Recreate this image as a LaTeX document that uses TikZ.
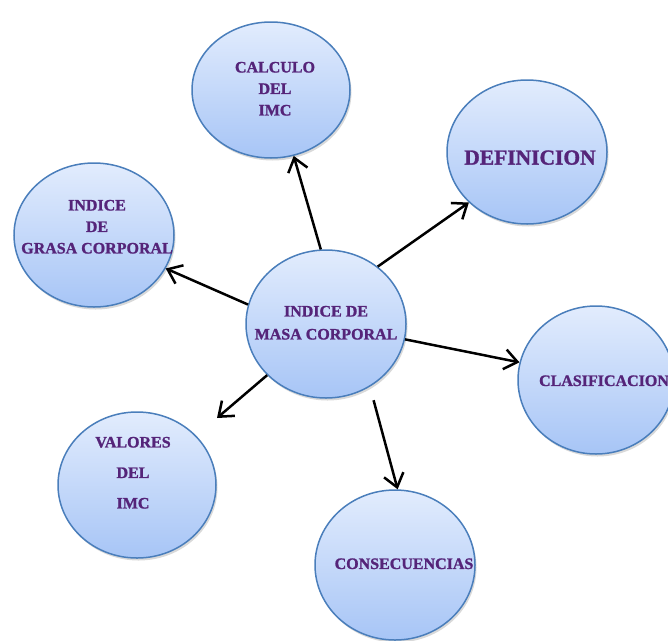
\documentclass[tikz,border=0pt]{standalone}
\usepackage{fontspec}
\setmainfont{Liberation Serif}[BoldFeatures={FakeBold=1.3}]
\usetikzlibrary{shapes.geometric, arrows.meta, shadows}

\definecolor{bordeazul}{HTML}{4A7EBB}
\definecolor{cieloarriba}{HTML}{E2ECFD}
\definecolor{cieloabajo}{HTML}{A7C5F6}
\definecolor{morado}{HTML}{552479}

% text that does not widen the ellipse: {xshift}{raise}{lines}
\newcommand{\rotulo}[3]{\raisebox{#2}[0pt][0pt]{\makebox[0pt]{\kern#1\kern#1\begin{tabular}{@{}c@{}}#3\end{tabular}}}}

\tikzset{
    tema/.style={ellipse, draw=bordeazul, line width=1.5pt,
        top color=cieloarriba, bottom color=cieloabajo,
        minimum width=160pt, minimum height=146pt, inner sep=0pt,
        text=morado,
        font=\fontsize{16}{21.5}\selectfont\bfseries,
        drop shadow={shadow xshift=1.5pt, shadow yshift=-2.5pt, opacity=0.25, fill=black!60}},
    flecha/.style={-{Straight Barb[length=13pt, width=20pt]}, line width=2.5pt}
}

\begin{document}
\begin{tikzpicture}[x=1pt, y=-1pt]
    \useasboundingbox (0,0) rectangle (668,640);

    \node[tema, minimum height=148pt] (imc) at (326,324) {\rotulo{0pt}{-4pt}{INDICE DE\\[1.5pt]MASA CORPORAL}};
    \node[tema, minimum width=158pt, minimum height=136pt] (calc) at (271,90) {\rotulo{4pt}{-4pt}{CALCULO\\DEL\\IMC}};
    \node[tema, minimum height=144pt, font=\fontsize{21.5}{24}\selectfont\bfseries] (def) at (527,152) {\rotulo{3pt}{-13pt}{DEFINICION}};
    \node[tema, minimum height=144pt] (grasa) at (94,235) {\rotulo{3pt}{3pt}{INDICE\\DE\\GRASA CORPORAL}};
    \node[tema, minimum width=156pt, minimum height=148pt] (clas) at (596,380) {\rotulo{8pt}{-6pt}{CLASIFICACION}};
    \node[tema, minimum height=150pt] (cons) at (395,565) {\rotulo{9pt}{-4pt}{CONSECUENCIAS}};
    \node[tema, minimum width=158pt] (val) at (137,485) {\rotulo{-4pt}{7pt}{VALORES\\[9pt]DEL\\[9pt]IMC}};
    \coordinate (valpunta) at (217,418);

    \path[flecha]
        (imc.94) edge (calc.-71)
        (imc.48) edge (def.221)
        (imc.166) edge (grasa.-25)
        (imc.-11) edge (clas.167)
        (imc.-55) edge[shorten <=14pt] (cons.88)
        (imc.221) edge (valpunta)
        ;
\end{tikzpicture}
\end{document}
